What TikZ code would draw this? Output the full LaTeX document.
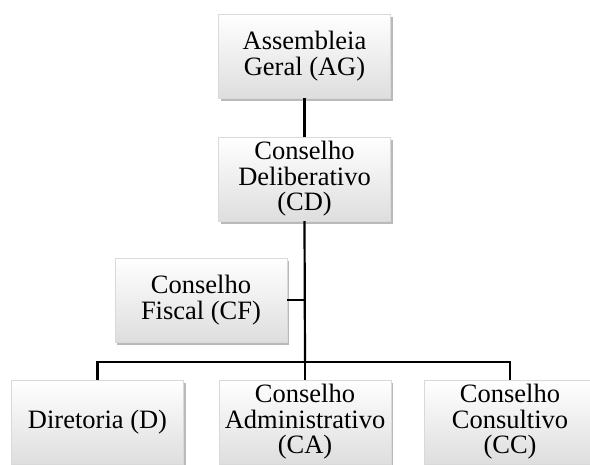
\documentclass[tikz,border=0pt]{standalone}
\usepackage{fontspec}
\setmainfont{Liberation Serif}
\usetikzlibrary{shadows}

\tikzset{
  orgbox/.style={rectangle, align=center, minimum width=172pt, minimum height=84pt,
    inner sep=1pt, draw=black!15, line width=0.4pt,
    top color=white, bottom color=black!13,
    drop shadow={shadow xshift=2pt, shadow yshift=-3pt, fill=black!45, opacity=0.6},
    font=\fontsize{26.5}{25.5}\selectfont},
  link/.style={line width=2.2pt, black}
}

\begin{document}
\begin{tikzpicture}[x=1pt, y=-1pt]
  \clip (0,0) rectangle (590,464);
  \useasboundingbox (0,0) rectangle (590,464);

  % Orgaos
  \node[orgbox] (AG) at (304.5,56) {Assembleia\\Geral (AG)};
  \node[orgbox] (CD) at (304.5,179) {Conselho\\Deliberativo\\(CD)};
  \node[orgbox] (CF) at (201,300) {Conselho\\Fiscal (CF)};
  \node[orgbox] (D)  at (97.5,422) {Diretoria (D)};
  \node[orgbox] (CA) at (305,422) {Conselho\\Administrativo\\(CA)};
  \node[orgbox] (CC) at (510,422) {Conselho\\Consultivo\\(CC)};

  % Ligacoes
  \coordinate (bus) at (305,362);
  \draw[link] (AG.south) -- (CD.north);
  \draw[link] (CD.south) -- (bus);
  \draw[link] (CF.east) -- (CF.east -| CD.south);
  \draw[link] (D.north) |- (bus) -| (CC.north);
  \draw[link] (bus) -- (CA.north);
\end{tikzpicture}
\end{document}
